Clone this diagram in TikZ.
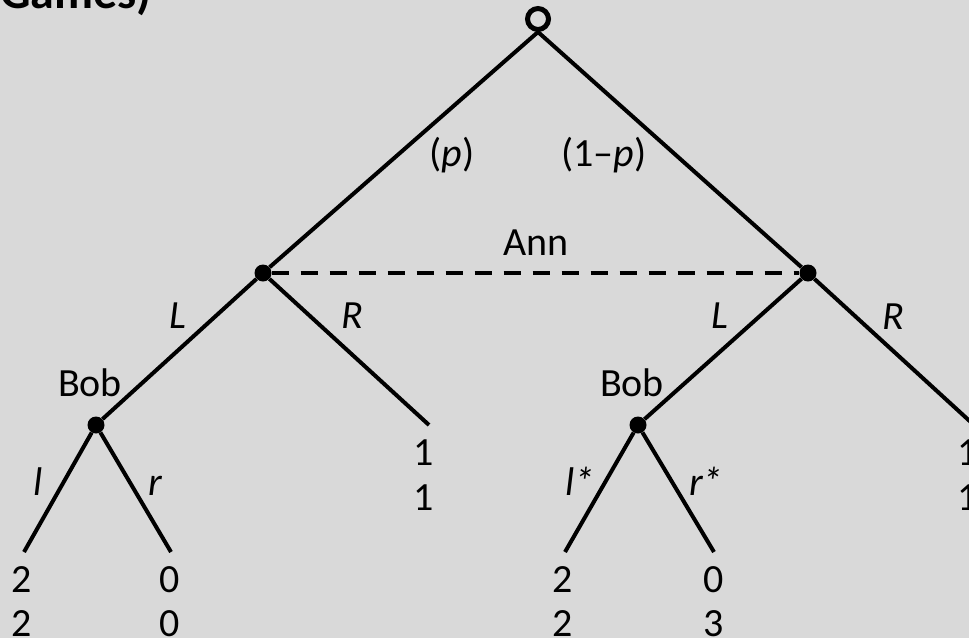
\documentclass[tikz,border=0pt]{standalone}
\usepackage{fontspec}
\setmainfont{Carlito}
\definecolor{bggray}{HTML}{D9D9D9}
\begin{document}
\begin{tikzpicture}[x=1pt,y=-1pt,
  every node/.style={font=\fontsize{40}{44}\selectfont, inner sep=0pt},
  edge/.style={line width=4pt},
  infoset/.style={line width=4pt, dash pattern=on 17pt off 12pt},
  dot/.style={circle, fill, minimum size=17pt, inner sep=0pt},
  chance/.style={circle, draw, line width=5pt, minimum size=21pt, inner sep=0pt},
  lbl/.style={anchor=base},
]
% canvas
\fill[bggray] (0,0) rectangle (969,638);
\useasboundingbox (0,0) rectangle (969,638);
\clip (0,0) rectangle (969,638);

% title fragment
\node[anchor=base east, font=\bfseries\fontsize{48}{56}\selectfont] (title) at (152,8) {Games)};

% decision nodes
\node[chance] (root) at (538,19) {};
\node[dot] (ann1) at (263,273) {};
\node[dot] (ann2) at (808,273) {};
\node[dot] (bob1) at (96,425) {};
\node[dot] (bob2) at (638,425) {};

% terminal points
\coordinate (e1) at (429,425);
\coordinate (e2) at (974,425);
\coordinate (z1) at (24,552);
\coordinate (z2) at (171,552);
\coordinate (z3) at (565,552);
\coordinate (z4) at (714,552);

% branches
\draw[edge] (root.south) -- (ann1);
\draw[edge] (root.south) -- (ann2);
\draw[edge] (ann1) -- (bob1);
\draw[edge] (ann1) -- (e1);
\draw[edge] (ann2) -- (bob2);
\draw[edge] (ann2) -- (e2);
\draw[edge] (bob1) -- (z1);
\draw[edge] (bob1) -- (z2);
\draw[edge] (bob2) -- (z3);
\draw[edge] (bob2) -- (z4);

% Ann's information set
\draw[infoset] (ann1) -- (ann2);

% labels
\node[lbl] (lp) at (452,166) {(\textit{p})};
\node[lbl] (lq) at (604,166) {(1--\textit{p})};
\node[lbl] (ann) at (536,255) {Ann};
\node[lbl] (L1) at (178,328) {\textit{L}};
\node[lbl] (R1) at (352,328) {\textit{R}};
\node[lbl] (L2) at (720,328) {\textit{L}};
\node[lbl] (R2) at (893,329) {\textit{R}};
\node[lbl] (bobl1) at (90,396) {Bob};
\node[lbl] (bobl2) at (632,396) {Bob};
\node[lbl] (l1) at (38,495) {\textit{l}};
\node[lbl] (r1) at (156,495) {\textit{r}};
\node[lbl] (l2) at (580,495) {\textit{l*}};
\node[lbl] (r2) at (706,495) {\textit{r*}};

% payoffs
\node[lbl] (p1a) at (22,592) {2};
\node[lbl] (p1b) at (22,636) {2};
\node[lbl] (p2a) at (170,592) {0};
\node[lbl] (p2b) at (170,636) {0};
\node[lbl] (p3a) at (424,465) {1};
\node[lbl] (p3b) at (424,510) {1};
\node[lbl] (p4a) at (563,592) {2};
\node[lbl] (p4b) at (563,636) {2};
\node[lbl] (p5a) at (714,592) {0};
\node[lbl] (p5b) at (714,636) {3};
\node[lbl] (p6a) at (968,465) {1};
\node[lbl] (p6b) at (968,510) {1};
\end{tikzpicture}
\end{document}
